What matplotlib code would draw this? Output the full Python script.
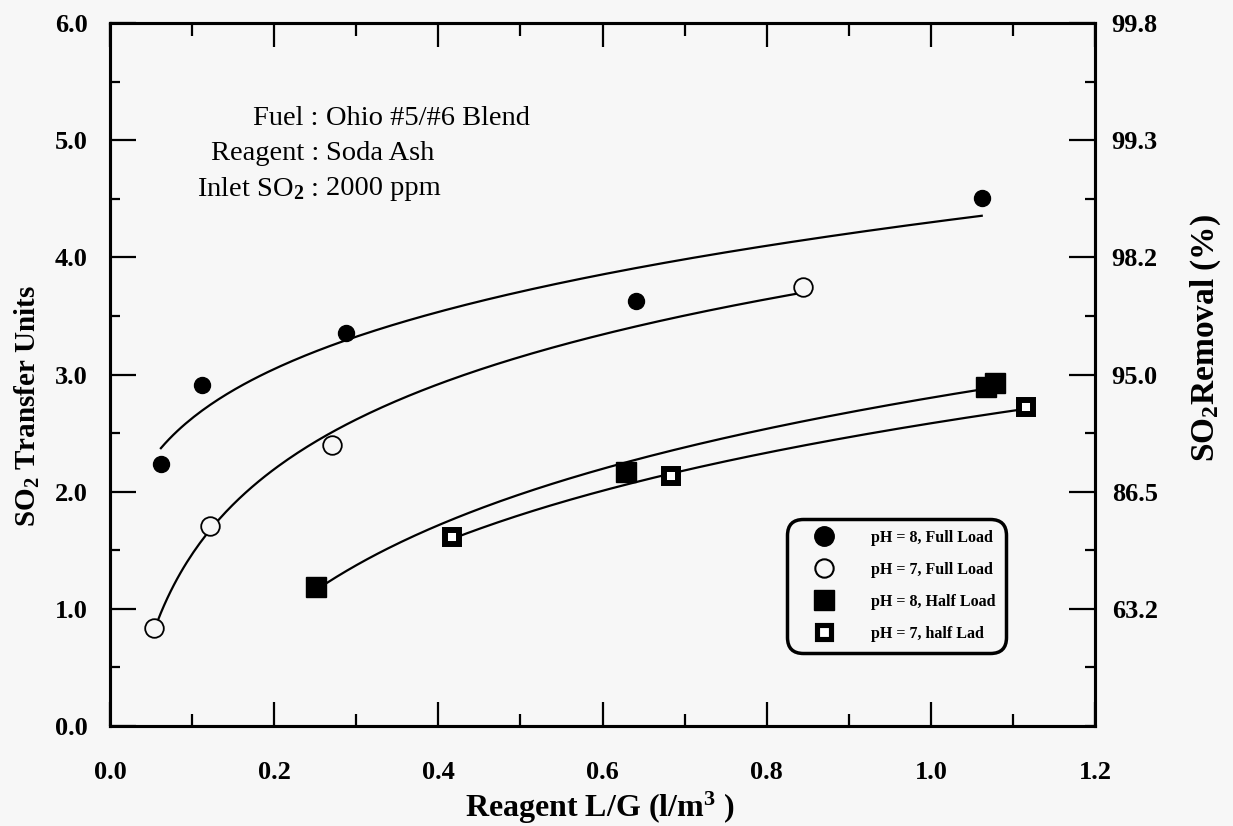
import numpy as np
import matplotlib
matplotlib.use('Agg')
import matplotlib.pyplot as plt
from matplotlib.ticker import MultipleLocator, FormatStrFormatter

plt.rcParams['font.family'] = ['Liberation Serif', 'DejaVu Serif']
plt.rcParams['font.weight'] = 'bold'
plt.rcParams['mathtext.fontset'] = 'custom'
plt.rcParams['mathtext.rm'] = 'Liberation Serif'
plt.rcParams['mathtext.it'] = 'Liberation Serif:italic'
plt.rcParams['mathtext.bf'] = 'Liberation Serif:bold'

# values
ph8_full_x = [0.062, 0.112, 0.287, 0.641, 1.062]
ph8_full_y = [2.24, 2.91, 3.35, 3.63, 4.51]
ph7_full_x = [0.054, 0.122, 0.270, 0.844]
ph7_full_y = [0.84, 1.71, 2.40, 3.75]
ph8_half_x = [0.251, 0.629, 1.067, 1.078]
ph8_half_y = [1.19, 2.17, 2.89, 2.93]
ph7_half_x = [0.417, 0.684, 1.116]
ph7_half_y = [1.61, 2.13, 2.72]

series_labels = ['pH = 8, Full Load', 'pH = 7, Full Load',
                 'pH = 8, Half Load', 'pH = 7, half Lad']
removal_ticks = [1, 2, 3, 4, 5, 6]
removal_labels = ['63.2', '86.5', '95.0', '98.2', '99.3', '99.8']
info_keys = ['Fuel', 'Reagent', 'Inlet SO$_2$']
info_vals = ['Ohio #5/#6 Blend', 'Soda Ash', '2000 ppm']


def fit_curve(x, y, power=False):
    x = np.asarray(x)
    y = np.asarray(y)
    xs = np.linspace(x.min(), x.max(), 200)
    if power:
        b, a = np.polyfit(np.log(x), np.log(y), 1)
        return xs, np.exp(a) * xs ** b
    b, a = np.polyfit(np.log(x), y, 1)
    return xs, a + b * np.log(xs)


W, H = 1233, 826
bg = '#f7f7f7'
fig = plt.figure(figsize=(W / 100, H / 100), dpi=100, facecolor=bg)
ax = fig.add_axes([110 / W, 1 - 726 / H, 985 / W, 703 / H])
ax.set_facecolor(bg)

# fitted curves
for xs, ys, pw in [(ph8_full_x, ph8_full_y, True), (ph7_full_x, ph7_full_y, False),
                   (ph8_half_x, ph8_half_y, False), (ph7_half_x, ph7_half_y, False)]:
    cx, cy = fit_curve(xs, ys, pw)
    ax.plot(cx, cy, color='black', lw=1.6, zorder=2)

# markers
ax.plot(ph8_full_x, ph8_full_y, 'o', ms=11.5, color='black', ls='none',
        label=series_labels[0], zorder=3)
ax.plot(ph7_full_x, ph7_full_y, 'o', ms=13.4, mfc=bg, mec='black', mew=1.3,
        ls='none', label=series_labels[1], zorder=3)
ax.plot(ph8_half_x, ph8_half_y, 's', ms=14.5, color='black', ls='none',
        label=series_labels[2], zorder=3)
ax.plot(ph7_half_x, ph7_half_y, 's', ms=10.5, mfc='white', mec='black', mew=4.3,
        ls='none', label=series_labels[3], zorder=3)

ax.set_xlim(0, 1.2)
ax.set_ylim(0, 6)
ax.xaxis.set_major_locator(MultipleLocator(0.2))
ax.xaxis.set_minor_locator(MultipleLocator(0.1))
ax.yaxis.set_major_locator(MultipleLocator(1.0))
ax.yaxis.set_minor_locator(MultipleLocator(0.5))
ax.xaxis.set_major_formatter(FormatStrFormatter('%.1f'))
ax.yaxis.set_major_formatter(FormatStrFormatter('%.1f'))
ax.tick_params(axis='both', which='both', direction='in', width=1.6,
               labelsize=19, top=True, right=False)
ax.tick_params(axis='x', which='major', length=17, pad=25)
ax.tick_params(axis='x', which='minor', length=9)
ax.tick_params(axis='y', which='major', length=19, pad=16)
ax.tick_params(axis='y', which='minor', length=7)
for s in ax.spines.values():
    s.set_linewidth(2.2)

ax2 = ax.twinx()
ax2.set_ylim(0, 6)
ax2.set_yticks(removal_ticks, removal_labels)
ax2.yaxis.set_minor_locator(MultipleLocator(0.5))
ax2.tick_params(axis='y', which='both', direction='in', width=1.6, labelsize=19)
ax2.tick_params(axis='y', which='major', length=19, pad=12)
ax2.tick_params(axis='y', which='minor', length=7)
for s in ax2.spines.values():
    s.set_linewidth(2.2)

# axis titles
fig.text(600 / W, 1 - 808 / H, r'Reagent L/G (l/m$^{\mathbf{3}}$ )', fontsize=23,
         fontweight='bold', ha='center', va='center')
fig.text(27 / W, 1 - 406 / H, r'SO$_{\mathbf{2}}$ Transfer Units', fontsize=21,
         fontweight='bold', rotation=90, ha='center', va='center')
fig.text(1206 / W, 1 - 338 / H, r'SO$_{\mathbf{2}}$Removal (%)', fontsize=24,
         fontweight='bold', rotation=90, ha='center', va='center')

# info block, colons aligned
for i, (k, v) in enumerate(zip(info_keys, info_vals)):
    yy = 0.864 - i * 0.050
    ax.text(0.212, yy, k + ' :', transform=ax.transAxes, ha='right', va='center',
            fontsize=20.5, fontweight='normal')
    ax.text(0.219, yy, v, transform=ax.transAxes, ha='left', va='center',
            fontsize=20.5, fontweight='normal')

leg = ax.legend(loc='lower left', bbox_to_anchor=(0.687, 0.104), fontsize=11.5,
                frameon=True, fancybox=True, edgecolor='black', facecolor=bg,
                framealpha=1, handlelength=3.25, handletextpad=1.3,
                labelspacing=1.0, borderpad=0.7, borderaxespad=0)
leg.get_frame().set_linewidth(2.5)
leg.get_frame().set_boxstyle('round', pad=0.0, rounding_size=1.0)
h = leg.legend_handles
h[0].set_markersize(14)
h[1].set_markersize(13.2)
h[1].set_markeredgewidth(1.5)
h[2].set_markersize(14.4)
h[3].set_markersize(10.7)
h[3].set_markeredgewidth(3.7)

fig.savefig('out.png', dpi=100, facecolor=bg)
